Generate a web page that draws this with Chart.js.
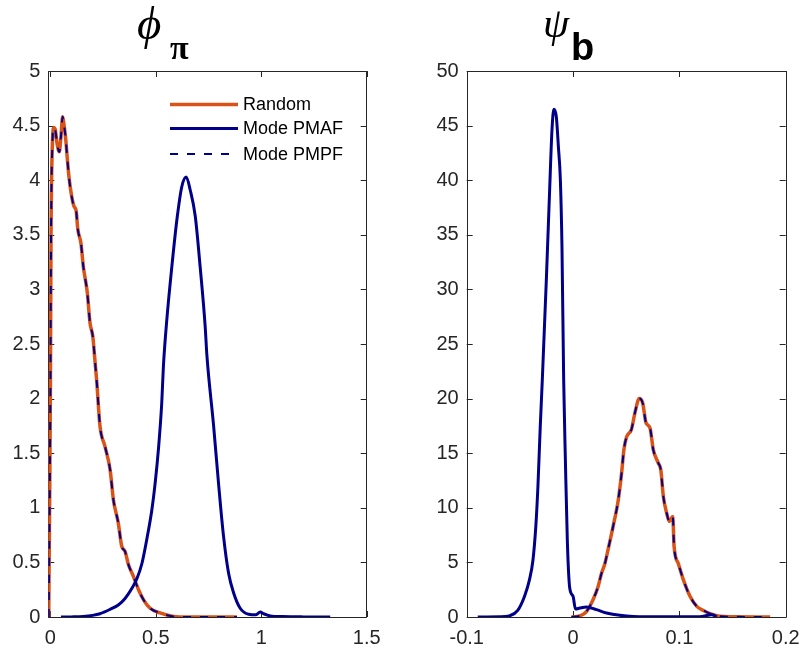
<!DOCTYPE html>
<html>
<head>
<meta charset="utf-8">
<script src="https://cdn.jsdelivr.net/npm/chart.js@4.4.0/dist/chart.umd.min.js"></script>
<style>
  body { margin: 0; background: #fff; }
  .wrap { position: relative; width: 800px; height: 648px; }
  canvas { position: absolute; top: 0; }
</style>
</head>
<body>
<div class="wrap">
  <canvas id="phiChart" width="400" height="648" style="left:0"></canvas>
  <canvas id="psiChart" width="400" height="648" style="left:400px"></canvas>
</div>
<script>
// DATA
const seriesLabels = ['Random', 'Mode PMAF', 'Mode PMPF'];

// left panel: phi_pi
const phiRandomX = [-0.008, -0.006, -0.003, 0.0, 0.003, 0.009, 0.016, 0.022, 0.032, 0.042, 0.05, 0.058, 0.065, 0.073, 0.08, 0.088,
  0.101, 0.112, 0.122, 0.130, 0.145, 0.156, 0.175, 0.188, 0.201, 0.212, 0.220, 0.235, 0.259, 0.283, 0.299, 0.322, 0.338,
  0.354, 0.370, 0.394, 0.418, 0.441, 0.473, 0.52, 0.584, 0.65, 0.75, 0.885];
const phiRandomY = [0, 0.5, 1.2, 2.1, 3.5, 4.31, 4.48, 4.47, 4.33, 4.26, 4.4, 4.58, 4.5, 4.37, 4.2, 4.03,
  3.85, 3.76, 3.72, 3.55, 3.42, 3.21, 2.97, 2.69, 2.57, 2.33, 2.15, 1.75, 1.56, 1.35, 1.07, 0.86, 0.65,
  0.60, 0.48, 0.37, 0.25, 0.16, 0.08, 0.037, 0.005, 0, 0, 0];
const phiPmafX = [0.05, 0.1, 0.156, 0.2, 0.235, 0.283, 0.322, 0.354, 0.386, 0.410, 0.434, 0.457, 0.481, 0.497, 0.512, 0.528,
  0.536, 0.552, 0.576, 0.600, 0.623, 0.644, 0.663, 0.687, 0.710, 0.734, 0.742, 0.774, 0.797, 0.821, 0.845, 0.869, 0.900,
  0.940, 0.975, 0.995, 1.011, 1.043, 1.1, 1.2, 1.327];
const phiPmafY = [0, 0.001, 0.005, 0.015, 0.03, 0.07, 0.11, 0.17, 0.26, 0.35, 0.49, 0.71, 0.98, 1.23, 1.53, 1.96,
  2.3, 2.72, 3.21, 3.64, 3.94, 4.03, 3.91, 3.67, 3.21, 2.66, 2.4, 1.75, 1.23, 0.74, 0.40, 0.22, 0.08,
  0.025, 0.02, 0.045, 0.03, 0.01, 0.004, 0.001, 0];
// PMPF lies on top of the random draw
const phiPmpfX = phiRandomX;
const phiPmpfY = phiRandomY;
const phiXTicks = [0, 0.5, 1, 1.5];
const phiYTicks = [0, 0.5, 1, 1.5, 2, 2.5, 3, 3.5, 4, 4.5, 5];

// right panel: psi_b
const psiRandomX = [-0.0015, 0.0063, 0.0126, 0.0189, 0.0236, 0.0268, 0.030, 0.033, 0.0377, 0.0425, 0.0457, 0.0478, 0.0504,
  0.055, 0.0582, 0.0623, 0.0655, 0.0686, 0.0724, 0.0755, 0.0802, 0.0825, 0.085, 0.0881, 0.0906, 0.0938, 0.095, 0.099,
  0.1038, 0.110, 0.1164, 0.1226, 0.129, 0.138, 0.15, 0.1854];
const psiRandomY = [0, 0.1, 0.5, 1.6, 2.8, 4.0, 4.9, 6.2, 8.3, 10.7, 13.2, 15.3, 16.5,
  17.2, 18.7, 20.0, 19.6, 17.8, 17.3, 15.3, 14.1, 13.5, 11.0, 9.5, 8.75, 9.2, 6.5, 4.9,
  3.4, 1.9, 0.97, 0.6, 0.3, 0.06, 0.02, 0];
const psiPmafX = [-0.0896, -0.069, -0.060, -0.052, -0.0456, -0.041, -0.0377, -0.035, -0.033, -0.0308, -0.0289, -0.0251,
  -0.022, -0.0198, -0.018, -0.0157, -0.0138, -0.0119, -0.0104, -0.0088, -0.0072, -0.0053, -0.0031, 0.0, 0.0023, 0.0063,
  0.0126, 0.022, 0.0315, 0.044, 0.0566, 0.088, 0.119, 0.1306, 0.1337, 0.135];
const psiPmafY = [0, 0.02, 0.1, 0.6, 1.9, 3.4, 5.2, 8.3, 12.0, 17.5, 21.7, 30.9,
  39.1, 44.6, 46.5, 45.8, 43.1, 40.0, 33.9, 21.7, 14.4, 6.8, 2.65, 1.9, 0.73, 0.82,
  0.92, 0.67, 0.37, 0.15, 0.05, 0.02, 0.02, 0.2, 0.1, 0];
const psiPmpfX = psiRandomX;
const psiPmpfY = psiRandomY;
const psiXTicks = [-0.1, 0, 0.1, 0.2];
const psiYTicks = [0, 5, 10, 15, 20, 25, 30, 35, 40, 45, 50];

// STYLES
const orange = '#D95319';
const navy = '#00008B';
const axisColor = '#262626';
const tickFont = { family: '"Liberation Sans", Arial, sans-serif', size: 20 };

const toPoints = (xs, ys) => xs.map((x, i) => ({ x: x, y: ys[i] }));

const makeDatasets = function(rx, ry, ax, ay, px, py){
    // order: bigger number drawn first, so dashed PMPF ends up on top
    return [
        { label: seriesLabels[0], data: toPoints(rx, ry), borderColor: orange, borderWidth: 3.5, order: 3 },
        { label: seriesLabels[1], data: toPoints(ax, ay), borderColor: navy, borderWidth: 3, order: 2 },
        { label: seriesLabels[2], data: toPoints(px, py), borderColor: navy, borderWidth: 2, borderDash: [8, 9], order: 1 },
    ].map(ds => Object.assign(ds, { pointRadius: 0, fill: false, cubicInterpolationMode: 'monotone', borderCapStyle: 'butt', borderJoinStyle: 'round' }));
};

// matlab-like box with inward ticks on all four sides
const boxPlugin = {
    id: 'box',
    beforeDatasetsDraw(chart){
        const { ctx, chartArea: a, scales } = chart;
        const tl = 6;
        ctx.save();
        ctx.strokeStyle = axisColor;
        ctx.lineWidth = 1;
        ctx.beginPath();
        ctx.rect(Math.round(a.left) + 0.5, Math.round(a.top) + 0.5, Math.round(a.right - a.left), Math.round(a.bottom - a.top));
        scales.x.ticks.forEach(t => {
            const x = Math.round(scales.x.getPixelForValue(t.value)) + 0.5;
            ctx.moveTo(x, a.bottom); ctx.lineTo(x, a.bottom - tl);
            ctx.moveTo(x, a.top); ctx.lineTo(x, a.top + tl);
        });
        scales.y.ticks.forEach(t => {
            const y = Math.round(scales.y.getPixelForValue(t.value)) + 0.5;
            ctx.moveTo(a.left, y); ctx.lineTo(a.left + tl, y);
            ctx.moveTo(a.right, y); ctx.lineTo(a.right - tl, y);
        });
        ctx.stroke();
        ctx.restore();
    }
};

// title drawn piece by piece (symbol + subscript)
const titlePlugin = {
    id: 'texTitle',
    afterDraw(chart, args, opts){
        const ctx = chart.ctx;
        ctx.save();
        ctx.fillStyle = '#000';
        ctx.textBaseline = 'alphabetic';
        ctx.textAlign = 'left';
        (opts.parts || []).forEach(p => {
            ctx.font = p.font;
            ctx.fillText(p.text, p.x, p.y);
        });
        ctx.restore();
    }
};

// legend inside the axes, no box
const innerLegend = {
    id: 'innerLegend',
    afterDraw(chart, args, opts){
        if(!opts.show) return;
        const ctx = chart.ctx;
        ctx.save();
        ctx.font = '18px "Liberation Sans", Arial, sans-serif';
        ctx.textBaseline = 'middle';
        ctx.fillStyle = '#000';
        chart.data.datasets.forEach((ds, i) => {
            const y = opts.rows[i];
            ctx.beginPath();
            ctx.strokeStyle = ds.borderColor;
            ctx.lineWidth = ds.borderWidth;
            ctx.setLineDash(ds.borderDash || []);
            ctx.moveTo(opts.x1, y); ctx.lineTo(opts.x2, y);
            ctx.stroke();
            ctx.setLineDash([]);
            ctx.fillText(ds.label, opts.textX, y + 1);
        });
        ctx.restore();
    }
};

const makeChart = function(canvasId, datasets, cfg){
    return new Chart(document.getElementById(canvasId), {
        type: 'line',
        data: { datasets: datasets },
        plugins: [boxPlugin, titlePlugin, innerLegend],
        options: {
            responsive: false,
            animation: false,
            events: [],
            layout: { padding: { left: 0, right: cfg.padRight, top: 71, bottom: 0 } },
            plugins: {
                legend: { display: false },
                tooltip: { enabled: false },
                texTitle: { parts: cfg.title },
                innerLegend: cfg.legend || { show: false },
            },
            scales: {
                x: {
                    type: 'linear', min: cfg.xMin, max: cfg.xMax,
                    grid: { display: false, drawTicks: false }, border: { display: false },
                    ticks: { color: axisColor, font: tickFont, padding: 9, maxRotation: 0, autoSkip: false, callback: v => String(v) },
                    afterBuildTicks: s => { s.ticks = cfg.xTicks.map(v => ({ value: v })); },
                    afterFit: s => { s.height = 31; s.paddingLeft = 0; s.paddingRight = 0; },
                },
                y: {
                    type: 'linear', min: 0, max: cfg.yMax,
                    grid: { display: false, drawTicks: false }, border: { display: false },
                    ticks: { color: axisColor, font: tickFont, padding: 8, autoSkip: false, callback: v => String(v) },
                    afterBuildTicks: s => { s.ticks = cfg.yTicks.map(v => ({ value: v })); },
                    afterFit: s => { s.width = cfg.yWidth; s.paddingTop = 0; s.paddingBottom = 0; },
                },
            },
        },
    });
};

makeChart('phiChart', makeDatasets(phiRandomX, phiRandomY, phiPmafX, phiPmafY, phiPmpfX, phiPmpfY), {
    xMin: -0.01, xMax: 1.5, yMax: 5, xTicks: phiXTicks, yTicks: phiYTicks,
    yWidth: 48.3, padRight: 33.3,
    title: [
        { text: '\u03D5', font: 'italic 47px "Liberation Serif", "DejaVu Serif", serif', x: 137, y: 39 },
        { text: '\u03C0', font: 'bold 34px "Liberation Serif", "DejaVu Serif", serif', x: 170, y: 59 },
    ],
    legend: { show: true, x1: 170, x2: 238, textX: 243, rows: [104.5, 128.5, 154] },
});

makeChart('psiChart', makeDatasets(psiRandomX, psiRandomY, psiPmafX, psiPmafY, psiPmpfX, psiPmpfY), {
    xMin: -0.1, xMax: 0.2, yMax: 50, xTicks: psiXTicks, yTicks: psiYTicks,
    yWidth: 66.7, padRight: 14.3,
    title: [
        { text: '\u03C8', font: 'italic 42px "Liberation Serif", "DejaVu Serif", serif', x: 143, y: 37 },
        { text: 'b', font: 'bold 38px "Liberation Sans", Arial, sans-serif', x: 171, y: 60 },
    ],
});
</script>
</body>
</html>
